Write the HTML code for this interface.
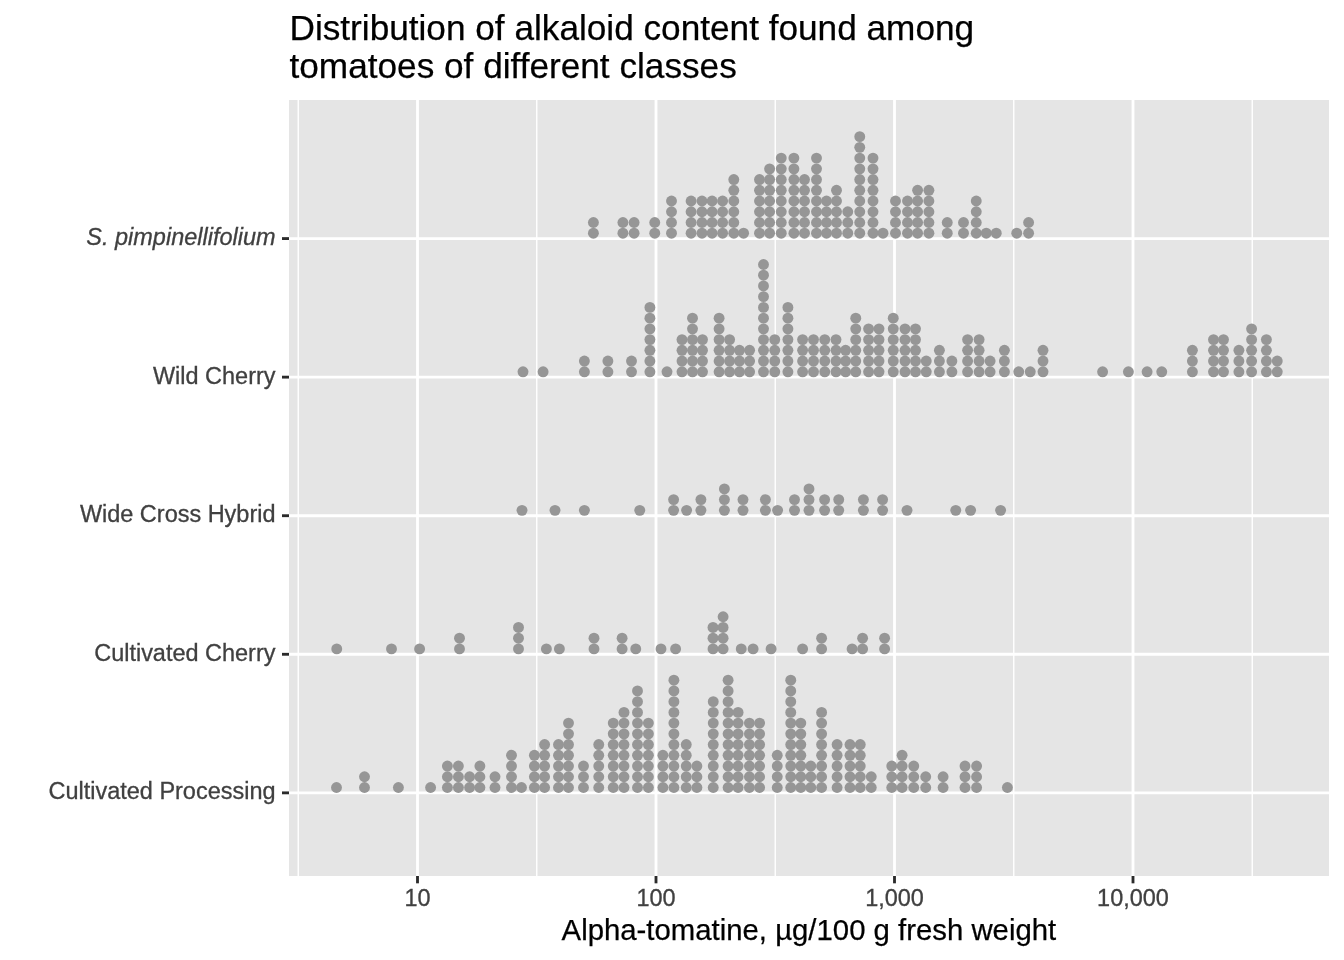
<!DOCTYPE html>
<html lang="en"><head><meta charset="utf-8"><title>Distribution of alkaloid content found among tomatoes of different classes</title>
<style>html,body{margin:0;padding:0;background:#fff}body{width:1344px;height:960px;overflow:hidden}svg{display:block}text{font-family:"Liberation Sans",Arial,Helvetica,sans-serif}.ax{font-size:23.47px;fill:#404040;stroke:#404040;stroke-width:.3px}.ti{font-size:35.20px;fill:#000;stroke:#000;stroke-width:.25px}.xt{font-size:29.33px;fill:#000;stroke:#000;stroke-width:.25px}.d circle{fill:#969696}</style></head><body>
<svg width="1344" height="960" viewBox="0 0 1344 960">
<rect x="0" y="0" width="1344" height="960" fill="#fff"/>
<rect x="289.00" y="100.00" width="1040.00" height="776.00" fill="#E5E5E5"/>
<g stroke="#fff" stroke-width="1.42">
<line x1="298.25" y1="100.00" x2="298.25" y2="876.00"/>
<line x1="536.75" y1="100.00" x2="536.75" y2="876.00"/>
<line x1="775.25" y1="100.00" x2="775.25" y2="876.00"/>
<line x1="1013.75" y1="100.00" x2="1013.75" y2="876.00"/>
<line x1="1252.25" y1="100.00" x2="1252.25" y2="876.00"/>
</g>
<g stroke="#fff" stroke-width="2.85">
<line x1="417.50" y1="100.00" x2="417.50" y2="876.00"/>
<line x1="656.00" y1="100.00" x2="656.00" y2="876.00"/>
<line x1="894.50" y1="100.00" x2="894.50" y2="876.00"/>
<line x1="1133.00" y1="100.00" x2="1133.00" y2="876.00"/>
<line x1="289.00" y1="238.57" x2="1329.00" y2="238.57"/>
<line x1="289.00" y1="377.14" x2="1329.00" y2="377.14"/>
<line x1="289.00" y1="515.71" x2="1329.00" y2="515.71"/>
<line x1="289.00" y1="654.29" x2="1329.00" y2="654.29"/>
<line x1="289.00" y1="792.86" x2="1329.00" y2="792.86"/>
</g>
<g class="d">
<circle cx="593.40" cy="233.21" r="5.45"/>
<circle cx="593.40" cy="222.48" r="5.45"/>
<circle cx="622.90" cy="233.21" r="5.45"/>
<circle cx="622.90" cy="222.48" r="5.45"/>
<circle cx="634.10" cy="233.21" r="5.45"/>
<circle cx="634.10" cy="222.48" r="5.45"/>
<circle cx="654.75" cy="233.21" r="5.45"/>
<circle cx="654.75" cy="222.48" r="5.45"/>
<circle cx="671.50" cy="233.21" r="5.45"/>
<circle cx="671.50" cy="222.48" r="5.45"/>
<circle cx="671.50" cy="211.75" r="5.45"/>
<circle cx="671.50" cy="201.02" r="5.45"/>
<circle cx="691.10" cy="233.21" r="5.45"/>
<circle cx="691.10" cy="222.48" r="5.45"/>
<circle cx="691.10" cy="211.75" r="5.45"/>
<circle cx="691.10" cy="201.02" r="5.45"/>
<circle cx="702.00" cy="233.21" r="5.45"/>
<circle cx="702.00" cy="222.48" r="5.45"/>
<circle cx="702.00" cy="211.75" r="5.45"/>
<circle cx="702.00" cy="201.02" r="5.45"/>
<circle cx="712.10" cy="233.21" r="5.45"/>
<circle cx="712.10" cy="222.48" r="5.45"/>
<circle cx="712.10" cy="211.75" r="5.45"/>
<circle cx="712.10" cy="201.02" r="5.45"/>
<circle cx="722.60" cy="233.21" r="5.45"/>
<circle cx="722.60" cy="222.48" r="5.45"/>
<circle cx="722.60" cy="211.75" r="5.45"/>
<circle cx="722.60" cy="201.02" r="5.45"/>
<circle cx="733.80" cy="233.21" r="5.45"/>
<circle cx="733.80" cy="222.48" r="5.45"/>
<circle cx="733.80" cy="211.75" r="5.45"/>
<circle cx="733.80" cy="201.02" r="5.45"/>
<circle cx="733.80" cy="190.29" r="5.45"/>
<circle cx="733.80" cy="179.56" r="5.45"/>
<circle cx="743.60" cy="233.21" r="5.45"/>
<circle cx="759.50" cy="233.21" r="5.45"/>
<circle cx="759.50" cy="222.48" r="5.45"/>
<circle cx="759.50" cy="211.75" r="5.45"/>
<circle cx="759.50" cy="201.02" r="5.45"/>
<circle cx="759.50" cy="190.29" r="5.45"/>
<circle cx="759.50" cy="179.56" r="5.45"/>
<circle cx="769.60" cy="233.21" r="5.45"/>
<circle cx="769.60" cy="222.48" r="5.45"/>
<circle cx="769.60" cy="211.75" r="5.45"/>
<circle cx="769.60" cy="201.02" r="5.45"/>
<circle cx="769.60" cy="190.29" r="5.45"/>
<circle cx="769.60" cy="179.56" r="5.45"/>
<circle cx="769.60" cy="168.83" r="5.45"/>
<circle cx="781.25" cy="233.21" r="5.45"/>
<circle cx="781.25" cy="222.48" r="5.45"/>
<circle cx="781.25" cy="211.75" r="5.45"/>
<circle cx="781.25" cy="201.02" r="5.45"/>
<circle cx="781.25" cy="190.29" r="5.45"/>
<circle cx="781.25" cy="179.56" r="5.45"/>
<circle cx="781.25" cy="168.83" r="5.45"/>
<circle cx="781.25" cy="158.10" r="5.45"/>
<circle cx="793.90" cy="233.21" r="5.45"/>
<circle cx="793.90" cy="222.48" r="5.45"/>
<circle cx="793.90" cy="211.75" r="5.45"/>
<circle cx="793.90" cy="201.02" r="5.45"/>
<circle cx="793.90" cy="190.29" r="5.45"/>
<circle cx="793.90" cy="179.56" r="5.45"/>
<circle cx="793.90" cy="168.83" r="5.45"/>
<circle cx="793.90" cy="158.10" r="5.45"/>
<circle cx="804.50" cy="233.21" r="5.45"/>
<circle cx="804.50" cy="222.48" r="5.45"/>
<circle cx="804.50" cy="211.75" r="5.45"/>
<circle cx="804.50" cy="201.02" r="5.45"/>
<circle cx="804.50" cy="190.29" r="5.45"/>
<circle cx="804.50" cy="179.56" r="5.45"/>
<circle cx="816.50" cy="233.21" r="5.45"/>
<circle cx="816.50" cy="222.48" r="5.45"/>
<circle cx="816.50" cy="211.75" r="5.45"/>
<circle cx="816.50" cy="201.02" r="5.45"/>
<circle cx="816.50" cy="190.29" r="5.45"/>
<circle cx="816.50" cy="179.56" r="5.45"/>
<circle cx="816.50" cy="168.83" r="5.45"/>
<circle cx="816.50" cy="158.10" r="5.45"/>
<circle cx="826.50" cy="233.21" r="5.45"/>
<circle cx="826.50" cy="222.48" r="5.45"/>
<circle cx="826.50" cy="211.75" r="5.45"/>
<circle cx="826.50" cy="201.02" r="5.45"/>
<circle cx="836.50" cy="233.21" r="5.45"/>
<circle cx="836.50" cy="222.48" r="5.45"/>
<circle cx="836.50" cy="211.75" r="5.45"/>
<circle cx="836.50" cy="201.02" r="5.45"/>
<circle cx="836.50" cy="190.29" r="5.45"/>
<circle cx="847.75" cy="233.21" r="5.45"/>
<circle cx="847.75" cy="222.48" r="5.45"/>
<circle cx="847.75" cy="211.75" r="5.45"/>
<circle cx="859.75" cy="233.21" r="5.45"/>
<circle cx="859.75" cy="222.48" r="5.45"/>
<circle cx="859.75" cy="211.75" r="5.45"/>
<circle cx="859.75" cy="201.02" r="5.45"/>
<circle cx="859.75" cy="190.29" r="5.45"/>
<circle cx="859.75" cy="179.56" r="5.45"/>
<circle cx="859.75" cy="168.83" r="5.45"/>
<circle cx="859.75" cy="158.10" r="5.45"/>
<circle cx="859.75" cy="147.37" r="5.45"/>
<circle cx="859.75" cy="136.64" r="5.45"/>
<circle cx="873.00" cy="233.21" r="5.45"/>
<circle cx="873.00" cy="222.48" r="5.45"/>
<circle cx="873.00" cy="211.75" r="5.45"/>
<circle cx="873.00" cy="201.02" r="5.45"/>
<circle cx="873.00" cy="190.29" r="5.45"/>
<circle cx="873.00" cy="179.56" r="5.45"/>
<circle cx="873.00" cy="168.83" r="5.45"/>
<circle cx="873.00" cy="158.10" r="5.45"/>
<circle cx="883.00" cy="233.21" r="5.45"/>
<circle cx="895.50" cy="233.21" r="5.45"/>
<circle cx="895.50" cy="222.48" r="5.45"/>
<circle cx="895.50" cy="211.75" r="5.45"/>
<circle cx="895.50" cy="201.02" r="5.45"/>
<circle cx="907.50" cy="233.21" r="5.45"/>
<circle cx="907.50" cy="222.48" r="5.45"/>
<circle cx="907.50" cy="211.75" r="5.45"/>
<circle cx="907.50" cy="201.02" r="5.45"/>
<circle cx="917.60" cy="233.21" r="5.45"/>
<circle cx="917.60" cy="222.48" r="5.45"/>
<circle cx="917.60" cy="211.75" r="5.45"/>
<circle cx="917.60" cy="201.02" r="5.45"/>
<circle cx="917.60" cy="190.29" r="5.45"/>
<circle cx="928.90" cy="233.21" r="5.45"/>
<circle cx="928.90" cy="222.48" r="5.45"/>
<circle cx="928.90" cy="211.75" r="5.45"/>
<circle cx="928.90" cy="201.02" r="5.45"/>
<circle cx="928.90" cy="190.29" r="5.45"/>
<circle cx="947.25" cy="233.21" r="5.45"/>
<circle cx="947.25" cy="222.48" r="5.45"/>
<circle cx="963.50" cy="233.21" r="5.45"/>
<circle cx="963.50" cy="222.48" r="5.45"/>
<circle cx="976.25" cy="233.21" r="5.45"/>
<circle cx="976.25" cy="222.48" r="5.45"/>
<circle cx="976.25" cy="211.75" r="5.45"/>
<circle cx="976.25" cy="201.02" r="5.45"/>
<circle cx="986.25" cy="233.21" r="5.45"/>
<circle cx="996.25" cy="233.21" r="5.45"/>
<circle cx="1016.75" cy="233.21" r="5.45"/>
<circle cx="1028.60" cy="233.21" r="5.45"/>
<circle cx="1028.60" cy="222.48" r="5.45"/>
</g>
<g class="d">
<circle cx="523.00" cy="371.78" r="5.45"/>
<circle cx="543.10" cy="371.78" r="5.45"/>
<circle cx="584.40" cy="371.78" r="5.45"/>
<circle cx="584.40" cy="361.05" r="5.45"/>
<circle cx="607.90" cy="371.78" r="5.45"/>
<circle cx="607.90" cy="361.05" r="5.45"/>
<circle cx="631.50" cy="371.78" r="5.45"/>
<circle cx="631.50" cy="361.05" r="5.45"/>
<circle cx="649.90" cy="371.78" r="5.45"/>
<circle cx="649.90" cy="361.05" r="5.45"/>
<circle cx="649.90" cy="350.32" r="5.45"/>
<circle cx="649.90" cy="339.59" r="5.45"/>
<circle cx="649.90" cy="328.86" r="5.45"/>
<circle cx="649.90" cy="318.13" r="5.45"/>
<circle cx="649.90" cy="307.40" r="5.45"/>
<circle cx="667.00" cy="371.78" r="5.45"/>
<circle cx="682.00" cy="371.78" r="5.45"/>
<circle cx="682.00" cy="361.05" r="5.45"/>
<circle cx="682.00" cy="350.32" r="5.45"/>
<circle cx="682.00" cy="339.59" r="5.45"/>
<circle cx="692.50" cy="371.78" r="5.45"/>
<circle cx="692.50" cy="361.05" r="5.45"/>
<circle cx="692.50" cy="350.32" r="5.45"/>
<circle cx="692.50" cy="339.59" r="5.45"/>
<circle cx="692.50" cy="328.86" r="5.45"/>
<circle cx="692.50" cy="318.13" r="5.45"/>
<circle cx="702.50" cy="371.78" r="5.45"/>
<circle cx="702.50" cy="361.05" r="5.45"/>
<circle cx="702.50" cy="350.32" r="5.45"/>
<circle cx="702.50" cy="339.59" r="5.45"/>
<circle cx="719.10" cy="371.78" r="5.45"/>
<circle cx="719.10" cy="361.05" r="5.45"/>
<circle cx="719.10" cy="350.32" r="5.45"/>
<circle cx="719.10" cy="339.59" r="5.45"/>
<circle cx="719.10" cy="328.86" r="5.45"/>
<circle cx="719.10" cy="318.13" r="5.45"/>
<circle cx="729.60" cy="371.78" r="5.45"/>
<circle cx="729.60" cy="361.05" r="5.45"/>
<circle cx="729.60" cy="350.32" r="5.45"/>
<circle cx="729.60" cy="339.59" r="5.45"/>
<circle cx="739.50" cy="371.78" r="5.45"/>
<circle cx="739.50" cy="361.05" r="5.45"/>
<circle cx="739.50" cy="350.32" r="5.45"/>
<circle cx="749.60" cy="371.78" r="5.45"/>
<circle cx="749.60" cy="361.05" r="5.45"/>
<circle cx="749.60" cy="350.32" r="5.45"/>
<circle cx="763.50" cy="371.78" r="5.45"/>
<circle cx="763.50" cy="361.05" r="5.45"/>
<circle cx="763.50" cy="350.32" r="5.45"/>
<circle cx="763.50" cy="339.59" r="5.45"/>
<circle cx="763.50" cy="328.86" r="5.45"/>
<circle cx="763.50" cy="318.13" r="5.45"/>
<circle cx="763.50" cy="307.40" r="5.45"/>
<circle cx="763.50" cy="296.67" r="5.45"/>
<circle cx="763.50" cy="285.94" r="5.45"/>
<circle cx="763.50" cy="275.21" r="5.45"/>
<circle cx="763.50" cy="264.48" r="5.45"/>
<circle cx="774.75" cy="371.78" r="5.45"/>
<circle cx="774.75" cy="361.05" r="5.45"/>
<circle cx="774.75" cy="350.32" r="5.45"/>
<circle cx="774.75" cy="339.59" r="5.45"/>
<circle cx="787.90" cy="371.78" r="5.45"/>
<circle cx="787.90" cy="361.05" r="5.45"/>
<circle cx="787.90" cy="350.32" r="5.45"/>
<circle cx="787.90" cy="339.59" r="5.45"/>
<circle cx="787.90" cy="328.86" r="5.45"/>
<circle cx="787.90" cy="318.13" r="5.45"/>
<circle cx="787.90" cy="307.40" r="5.45"/>
<circle cx="802.60" cy="371.78" r="5.45"/>
<circle cx="802.60" cy="361.05" r="5.45"/>
<circle cx="802.60" cy="350.32" r="5.45"/>
<circle cx="802.60" cy="339.59" r="5.45"/>
<circle cx="813.50" cy="371.78" r="5.45"/>
<circle cx="813.50" cy="361.05" r="5.45"/>
<circle cx="813.50" cy="350.32" r="5.45"/>
<circle cx="813.50" cy="339.59" r="5.45"/>
<circle cx="824.75" cy="371.78" r="5.45"/>
<circle cx="824.75" cy="361.05" r="5.45"/>
<circle cx="824.75" cy="350.32" r="5.45"/>
<circle cx="824.75" cy="339.59" r="5.45"/>
<circle cx="836.00" cy="371.78" r="5.45"/>
<circle cx="836.00" cy="361.05" r="5.45"/>
<circle cx="836.00" cy="350.32" r="5.45"/>
<circle cx="836.00" cy="339.59" r="5.45"/>
<circle cx="845.60" cy="371.78" r="5.45"/>
<circle cx="845.60" cy="361.05" r="5.45"/>
<circle cx="845.60" cy="350.32" r="5.45"/>
<circle cx="855.75" cy="371.78" r="5.45"/>
<circle cx="855.75" cy="361.05" r="5.45"/>
<circle cx="855.75" cy="350.32" r="5.45"/>
<circle cx="855.75" cy="339.59" r="5.45"/>
<circle cx="855.75" cy="328.86" r="5.45"/>
<circle cx="855.75" cy="318.13" r="5.45"/>
<circle cx="868.60" cy="371.78" r="5.45"/>
<circle cx="868.60" cy="361.05" r="5.45"/>
<circle cx="868.60" cy="350.32" r="5.45"/>
<circle cx="868.60" cy="339.59" r="5.45"/>
<circle cx="868.60" cy="328.86" r="5.45"/>
<circle cx="879.00" cy="371.78" r="5.45"/>
<circle cx="879.00" cy="361.05" r="5.45"/>
<circle cx="879.00" cy="350.32" r="5.45"/>
<circle cx="879.00" cy="339.59" r="5.45"/>
<circle cx="879.00" cy="328.86" r="5.45"/>
<circle cx="893.25" cy="371.78" r="5.45"/>
<circle cx="893.25" cy="361.05" r="5.45"/>
<circle cx="893.25" cy="350.32" r="5.45"/>
<circle cx="893.25" cy="339.59" r="5.45"/>
<circle cx="893.25" cy="328.86" r="5.45"/>
<circle cx="893.25" cy="318.13" r="5.45"/>
<circle cx="905.00" cy="371.78" r="5.45"/>
<circle cx="905.00" cy="361.05" r="5.45"/>
<circle cx="905.00" cy="350.32" r="5.45"/>
<circle cx="905.00" cy="339.59" r="5.45"/>
<circle cx="905.00" cy="328.86" r="5.45"/>
<circle cx="915.50" cy="371.78" r="5.45"/>
<circle cx="915.50" cy="361.05" r="5.45"/>
<circle cx="915.50" cy="350.32" r="5.45"/>
<circle cx="915.50" cy="339.59" r="5.45"/>
<circle cx="915.50" cy="328.86" r="5.45"/>
<circle cx="926.25" cy="371.78" r="5.45"/>
<circle cx="926.25" cy="361.05" r="5.45"/>
<circle cx="939.40" cy="371.78" r="5.45"/>
<circle cx="939.40" cy="361.05" r="5.45"/>
<circle cx="939.40" cy="350.32" r="5.45"/>
<circle cx="951.90" cy="371.78" r="5.45"/>
<circle cx="951.90" cy="361.05" r="5.45"/>
<circle cx="967.60" cy="371.78" r="5.45"/>
<circle cx="967.60" cy="361.05" r="5.45"/>
<circle cx="967.60" cy="350.32" r="5.45"/>
<circle cx="967.60" cy="339.59" r="5.45"/>
<circle cx="979.10" cy="371.78" r="5.45"/>
<circle cx="979.10" cy="361.05" r="5.45"/>
<circle cx="979.10" cy="350.32" r="5.45"/>
<circle cx="979.10" cy="339.59" r="5.45"/>
<circle cx="990.10" cy="371.78" r="5.45"/>
<circle cx="990.10" cy="361.05" r="5.45"/>
<circle cx="1004.40" cy="371.78" r="5.45"/>
<circle cx="1004.40" cy="361.05" r="5.45"/>
<circle cx="1004.40" cy="350.32" r="5.45"/>
<circle cx="1018.75" cy="371.78" r="5.45"/>
<circle cx="1030.25" cy="371.78" r="5.45"/>
<circle cx="1043.00" cy="371.78" r="5.45"/>
<circle cx="1043.00" cy="361.05" r="5.45"/>
<circle cx="1043.00" cy="350.32" r="5.45"/>
<circle cx="1102.60" cy="371.78" r="5.45"/>
<circle cx="1128.40" cy="371.78" r="5.45"/>
<circle cx="1147.10" cy="371.78" r="5.45"/>
<circle cx="1161.75" cy="371.78" r="5.45"/>
<circle cx="1192.40" cy="371.78" r="5.45"/>
<circle cx="1192.40" cy="361.05" r="5.45"/>
<circle cx="1192.40" cy="350.32" r="5.45"/>
<circle cx="1213.50" cy="371.78" r="5.45"/>
<circle cx="1213.50" cy="361.05" r="5.45"/>
<circle cx="1213.50" cy="350.32" r="5.45"/>
<circle cx="1213.50" cy="339.59" r="5.45"/>
<circle cx="1223.50" cy="371.78" r="5.45"/>
<circle cx="1223.50" cy="361.05" r="5.45"/>
<circle cx="1223.50" cy="350.32" r="5.45"/>
<circle cx="1223.50" cy="339.59" r="5.45"/>
<circle cx="1238.90" cy="371.78" r="5.45"/>
<circle cx="1238.90" cy="361.05" r="5.45"/>
<circle cx="1238.90" cy="350.32" r="5.45"/>
<circle cx="1251.60" cy="371.78" r="5.45"/>
<circle cx="1251.60" cy="361.05" r="5.45"/>
<circle cx="1251.60" cy="350.32" r="5.45"/>
<circle cx="1251.60" cy="339.59" r="5.45"/>
<circle cx="1251.60" cy="328.86" r="5.45"/>
<circle cx="1266.40" cy="371.78" r="5.45"/>
<circle cx="1266.40" cy="361.05" r="5.45"/>
<circle cx="1266.40" cy="350.32" r="5.45"/>
<circle cx="1266.40" cy="339.59" r="5.45"/>
<circle cx="1277.25" cy="371.78" r="5.45"/>
<circle cx="1277.25" cy="361.05" r="5.45"/>
</g>
<g class="d">
<circle cx="522.00" cy="510.35" r="5.45"/>
<circle cx="555.00" cy="510.35" r="5.45"/>
<circle cx="584.40" cy="510.35" r="5.45"/>
<circle cx="639.75" cy="510.35" r="5.45"/>
<circle cx="673.60" cy="510.35" r="5.45"/>
<circle cx="673.60" cy="499.62" r="5.45"/>
<circle cx="686.60" cy="510.35" r="5.45"/>
<circle cx="700.90" cy="510.35" r="5.45"/>
<circle cx="700.90" cy="499.62" r="5.45"/>
<circle cx="724.40" cy="510.35" r="5.45"/>
<circle cx="724.40" cy="499.62" r="5.45"/>
<circle cx="724.40" cy="488.89" r="5.45"/>
<circle cx="743.00" cy="510.35" r="5.45"/>
<circle cx="743.00" cy="499.62" r="5.45"/>
<circle cx="765.40" cy="510.35" r="5.45"/>
<circle cx="765.40" cy="499.62" r="5.45"/>
<circle cx="777.60" cy="510.35" r="5.45"/>
<circle cx="794.50" cy="510.35" r="5.45"/>
<circle cx="794.50" cy="499.62" r="5.45"/>
<circle cx="809.00" cy="510.35" r="5.45"/>
<circle cx="809.00" cy="499.62" r="5.45"/>
<circle cx="809.00" cy="488.89" r="5.45"/>
<circle cx="824.60" cy="510.35" r="5.45"/>
<circle cx="824.60" cy="499.62" r="5.45"/>
<circle cx="838.70" cy="510.35" r="5.45"/>
<circle cx="838.70" cy="499.62" r="5.45"/>
<circle cx="863.40" cy="510.35" r="5.45"/>
<circle cx="863.40" cy="499.62" r="5.45"/>
<circle cx="882.60" cy="510.35" r="5.45"/>
<circle cx="882.60" cy="499.62" r="5.45"/>
<circle cx="907.00" cy="510.35" r="5.45"/>
<circle cx="955.75" cy="510.35" r="5.45"/>
<circle cx="970.60" cy="510.35" r="5.45"/>
<circle cx="1000.60" cy="510.35" r="5.45"/>
</g>
<g class="d">
<circle cx="336.75" cy="648.92" r="5.45"/>
<circle cx="391.50" cy="648.92" r="5.45"/>
<circle cx="419.60" cy="648.92" r="5.45"/>
<circle cx="459.50" cy="648.92" r="5.45"/>
<circle cx="459.50" cy="638.19" r="5.45"/>
<circle cx="518.50" cy="648.92" r="5.45"/>
<circle cx="518.50" cy="638.19" r="5.45"/>
<circle cx="518.50" cy="627.46" r="5.45"/>
<circle cx="546.40" cy="648.92" r="5.45"/>
<circle cx="559.40" cy="648.92" r="5.45"/>
<circle cx="594.00" cy="648.92" r="5.45"/>
<circle cx="594.00" cy="638.19" r="5.45"/>
<circle cx="622.10" cy="648.92" r="5.45"/>
<circle cx="622.10" cy="638.19" r="5.45"/>
<circle cx="635.75" cy="648.92" r="5.45"/>
<circle cx="661.00" cy="648.92" r="5.45"/>
<circle cx="675.60" cy="648.92" r="5.45"/>
<circle cx="713.00" cy="648.92" r="5.45"/>
<circle cx="713.00" cy="638.19" r="5.45"/>
<circle cx="713.00" cy="627.46" r="5.45"/>
<circle cx="723.10" cy="648.92" r="5.45"/>
<circle cx="723.10" cy="638.19" r="5.45"/>
<circle cx="723.10" cy="627.46" r="5.45"/>
<circle cx="723.10" cy="616.73" r="5.45"/>
<circle cx="741.25" cy="648.92" r="5.45"/>
<circle cx="753.10" cy="648.92" r="5.45"/>
<circle cx="771.10" cy="648.92" r="5.45"/>
<circle cx="802.60" cy="648.92" r="5.45"/>
<circle cx="821.60" cy="648.92" r="5.45"/>
<circle cx="821.60" cy="638.19" r="5.45"/>
<circle cx="852.10" cy="648.92" r="5.45"/>
<circle cx="862.60" cy="648.92" r="5.45"/>
<circle cx="862.60" cy="638.19" r="5.45"/>
<circle cx="884.60" cy="648.92" r="5.45"/>
<circle cx="884.60" cy="638.19" r="5.45"/>
</g>
<g class="d">
<circle cx="336.50" cy="787.49" r="5.45"/>
<circle cx="364.50" cy="787.49" r="5.45"/>
<circle cx="364.50" cy="776.76" r="5.45"/>
<circle cx="398.40" cy="787.49" r="5.45"/>
<circle cx="430.60" cy="787.49" r="5.45"/>
<circle cx="447.40" cy="787.49" r="5.45"/>
<circle cx="447.40" cy="776.76" r="5.45"/>
<circle cx="447.40" cy="766.03" r="5.45"/>
<circle cx="458.40" cy="787.49" r="5.45"/>
<circle cx="458.40" cy="776.76" r="5.45"/>
<circle cx="458.40" cy="766.03" r="5.45"/>
<circle cx="469.60" cy="787.49" r="5.45"/>
<circle cx="469.60" cy="776.76" r="5.45"/>
<circle cx="479.90" cy="787.49" r="5.45"/>
<circle cx="479.90" cy="776.76" r="5.45"/>
<circle cx="479.90" cy="766.03" r="5.45"/>
<circle cx="495.00" cy="787.49" r="5.45"/>
<circle cx="495.00" cy="776.76" r="5.45"/>
<circle cx="511.50" cy="787.49" r="5.45"/>
<circle cx="511.50" cy="776.76" r="5.45"/>
<circle cx="511.50" cy="766.03" r="5.45"/>
<circle cx="511.50" cy="755.30" r="5.45"/>
<circle cx="521.50" cy="787.49" r="5.45"/>
<circle cx="534.40" cy="787.49" r="5.45"/>
<circle cx="534.40" cy="776.76" r="5.45"/>
<circle cx="534.40" cy="766.03" r="5.45"/>
<circle cx="534.40" cy="755.30" r="5.45"/>
<circle cx="544.60" cy="787.49" r="5.45"/>
<circle cx="544.60" cy="776.76" r="5.45"/>
<circle cx="544.60" cy="766.03" r="5.45"/>
<circle cx="544.60" cy="755.30" r="5.45"/>
<circle cx="544.60" cy="744.57" r="5.45"/>
<circle cx="558.50" cy="787.49" r="5.45"/>
<circle cx="558.50" cy="776.76" r="5.45"/>
<circle cx="558.50" cy="766.03" r="5.45"/>
<circle cx="558.50" cy="755.30" r="5.45"/>
<circle cx="558.50" cy="744.57" r="5.45"/>
<circle cx="568.50" cy="787.49" r="5.45"/>
<circle cx="568.50" cy="776.76" r="5.45"/>
<circle cx="568.50" cy="766.03" r="5.45"/>
<circle cx="568.50" cy="755.30" r="5.45"/>
<circle cx="568.50" cy="744.57" r="5.45"/>
<circle cx="568.50" cy="733.84" r="5.45"/>
<circle cx="568.50" cy="723.11" r="5.45"/>
<circle cx="583.50" cy="787.49" r="5.45"/>
<circle cx="583.50" cy="776.76" r="5.45"/>
<circle cx="583.50" cy="766.03" r="5.45"/>
<circle cx="598.75" cy="787.49" r="5.45"/>
<circle cx="598.75" cy="776.76" r="5.45"/>
<circle cx="598.75" cy="766.03" r="5.45"/>
<circle cx="598.75" cy="755.30" r="5.45"/>
<circle cx="598.75" cy="744.57" r="5.45"/>
<circle cx="613.25" cy="787.49" r="5.45"/>
<circle cx="613.25" cy="776.76" r="5.45"/>
<circle cx="613.25" cy="766.03" r="5.45"/>
<circle cx="613.25" cy="755.30" r="5.45"/>
<circle cx="613.25" cy="744.57" r="5.45"/>
<circle cx="613.25" cy="733.84" r="5.45"/>
<circle cx="613.25" cy="723.11" r="5.45"/>
<circle cx="624.00" cy="787.49" r="5.45"/>
<circle cx="624.00" cy="776.76" r="5.45"/>
<circle cx="624.00" cy="766.03" r="5.45"/>
<circle cx="624.00" cy="755.30" r="5.45"/>
<circle cx="624.00" cy="744.57" r="5.45"/>
<circle cx="624.00" cy="733.84" r="5.45"/>
<circle cx="624.00" cy="723.11" r="5.45"/>
<circle cx="624.00" cy="712.38" r="5.45"/>
<circle cx="637.50" cy="787.49" r="5.45"/>
<circle cx="637.50" cy="776.76" r="5.45"/>
<circle cx="637.50" cy="766.03" r="5.45"/>
<circle cx="637.50" cy="755.30" r="5.45"/>
<circle cx="637.50" cy="744.57" r="5.45"/>
<circle cx="637.50" cy="733.84" r="5.45"/>
<circle cx="637.50" cy="723.11" r="5.45"/>
<circle cx="637.50" cy="712.38" r="5.45"/>
<circle cx="637.50" cy="701.65" r="5.45"/>
<circle cx="637.50" cy="690.92" r="5.45"/>
<circle cx="648.40" cy="787.49" r="5.45"/>
<circle cx="648.40" cy="776.76" r="5.45"/>
<circle cx="648.40" cy="766.03" r="5.45"/>
<circle cx="648.40" cy="755.30" r="5.45"/>
<circle cx="648.40" cy="744.57" r="5.45"/>
<circle cx="648.40" cy="733.84" r="5.45"/>
<circle cx="648.40" cy="723.11" r="5.45"/>
<circle cx="662.90" cy="787.49" r="5.45"/>
<circle cx="662.90" cy="776.76" r="5.45"/>
<circle cx="662.90" cy="766.03" r="5.45"/>
<circle cx="662.90" cy="755.30" r="5.45"/>
<circle cx="673.90" cy="787.49" r="5.45"/>
<circle cx="673.90" cy="776.76" r="5.45"/>
<circle cx="673.90" cy="766.03" r="5.45"/>
<circle cx="673.90" cy="755.30" r="5.45"/>
<circle cx="673.90" cy="744.57" r="5.45"/>
<circle cx="673.90" cy="733.84" r="5.45"/>
<circle cx="673.90" cy="723.11" r="5.45"/>
<circle cx="673.90" cy="712.38" r="5.45"/>
<circle cx="673.90" cy="701.65" r="5.45"/>
<circle cx="673.90" cy="690.92" r="5.45"/>
<circle cx="673.90" cy="680.19" r="5.45"/>
<circle cx="686.25" cy="787.49" r="5.45"/>
<circle cx="686.25" cy="776.76" r="5.45"/>
<circle cx="686.25" cy="766.03" r="5.45"/>
<circle cx="686.25" cy="755.30" r="5.45"/>
<circle cx="686.25" cy="744.57" r="5.45"/>
<circle cx="696.90" cy="787.49" r="5.45"/>
<circle cx="696.90" cy="776.76" r="5.45"/>
<circle cx="696.90" cy="766.03" r="5.45"/>
<circle cx="713.25" cy="787.49" r="5.45"/>
<circle cx="713.25" cy="776.76" r="5.45"/>
<circle cx="713.25" cy="766.03" r="5.45"/>
<circle cx="713.25" cy="755.30" r="5.45"/>
<circle cx="713.25" cy="744.57" r="5.45"/>
<circle cx="713.25" cy="733.84" r="5.45"/>
<circle cx="713.25" cy="723.11" r="5.45"/>
<circle cx="713.25" cy="712.38" r="5.45"/>
<circle cx="713.25" cy="701.65" r="5.45"/>
<circle cx="728.10" cy="787.49" r="5.45"/>
<circle cx="728.10" cy="776.76" r="5.45"/>
<circle cx="728.10" cy="766.03" r="5.45"/>
<circle cx="728.10" cy="755.30" r="5.45"/>
<circle cx="728.10" cy="744.57" r="5.45"/>
<circle cx="728.10" cy="733.84" r="5.45"/>
<circle cx="728.10" cy="723.11" r="5.45"/>
<circle cx="728.10" cy="712.38" r="5.45"/>
<circle cx="728.10" cy="701.65" r="5.45"/>
<circle cx="728.10" cy="690.92" r="5.45"/>
<circle cx="728.10" cy="680.19" r="5.45"/>
<circle cx="738.10" cy="787.49" r="5.45"/>
<circle cx="738.10" cy="776.76" r="5.45"/>
<circle cx="738.10" cy="766.03" r="5.45"/>
<circle cx="738.10" cy="755.30" r="5.45"/>
<circle cx="738.10" cy="744.57" r="5.45"/>
<circle cx="738.10" cy="733.84" r="5.45"/>
<circle cx="738.10" cy="723.11" r="5.45"/>
<circle cx="738.10" cy="712.38" r="5.45"/>
<circle cx="749.40" cy="787.49" r="5.45"/>
<circle cx="749.40" cy="776.76" r="5.45"/>
<circle cx="749.40" cy="766.03" r="5.45"/>
<circle cx="749.40" cy="755.30" r="5.45"/>
<circle cx="749.40" cy="744.57" r="5.45"/>
<circle cx="749.40" cy="733.84" r="5.45"/>
<circle cx="749.40" cy="723.11" r="5.45"/>
<circle cx="759.60" cy="787.49" r="5.45"/>
<circle cx="759.60" cy="776.76" r="5.45"/>
<circle cx="759.60" cy="766.03" r="5.45"/>
<circle cx="759.60" cy="755.30" r="5.45"/>
<circle cx="759.60" cy="744.57" r="5.45"/>
<circle cx="759.60" cy="733.84" r="5.45"/>
<circle cx="759.60" cy="723.11" r="5.45"/>
<circle cx="777.25" cy="787.49" r="5.45"/>
<circle cx="777.25" cy="776.76" r="5.45"/>
<circle cx="777.25" cy="766.03" r="5.45"/>
<circle cx="777.25" cy="755.30" r="5.45"/>
<circle cx="790.75" cy="787.49" r="5.45"/>
<circle cx="790.75" cy="776.76" r="5.45"/>
<circle cx="790.75" cy="766.03" r="5.45"/>
<circle cx="790.75" cy="755.30" r="5.45"/>
<circle cx="790.75" cy="744.57" r="5.45"/>
<circle cx="790.75" cy="733.84" r="5.45"/>
<circle cx="790.75" cy="723.11" r="5.45"/>
<circle cx="790.75" cy="712.38" r="5.45"/>
<circle cx="790.75" cy="701.65" r="5.45"/>
<circle cx="790.75" cy="690.92" r="5.45"/>
<circle cx="790.75" cy="680.19" r="5.45"/>
<circle cx="800.80" cy="787.49" r="5.45"/>
<circle cx="800.80" cy="776.76" r="5.45"/>
<circle cx="800.80" cy="766.03" r="5.45"/>
<circle cx="800.80" cy="755.30" r="5.45"/>
<circle cx="800.80" cy="744.57" r="5.45"/>
<circle cx="800.80" cy="733.84" r="5.45"/>
<circle cx="800.80" cy="723.11" r="5.45"/>
<circle cx="810.80" cy="787.49" r="5.45"/>
<circle cx="810.80" cy="776.76" r="5.45"/>
<circle cx="810.80" cy="766.03" r="5.45"/>
<circle cx="821.60" cy="787.49" r="5.45"/>
<circle cx="821.60" cy="776.76" r="5.45"/>
<circle cx="821.60" cy="766.03" r="5.45"/>
<circle cx="821.60" cy="755.30" r="5.45"/>
<circle cx="821.60" cy="744.57" r="5.45"/>
<circle cx="821.60" cy="733.84" r="5.45"/>
<circle cx="821.60" cy="723.11" r="5.45"/>
<circle cx="821.60" cy="712.38" r="5.45"/>
<circle cx="837.10" cy="787.49" r="5.45"/>
<circle cx="837.10" cy="776.76" r="5.45"/>
<circle cx="837.10" cy="766.03" r="5.45"/>
<circle cx="837.10" cy="755.30" r="5.45"/>
<circle cx="837.10" cy="744.57" r="5.45"/>
<circle cx="850.00" cy="787.49" r="5.45"/>
<circle cx="850.00" cy="776.76" r="5.45"/>
<circle cx="850.00" cy="766.03" r="5.45"/>
<circle cx="850.00" cy="755.30" r="5.45"/>
<circle cx="850.00" cy="744.57" r="5.45"/>
<circle cx="860.25" cy="787.49" r="5.45"/>
<circle cx="860.25" cy="776.76" r="5.45"/>
<circle cx="860.25" cy="766.03" r="5.45"/>
<circle cx="860.25" cy="755.30" r="5.45"/>
<circle cx="860.25" cy="744.57" r="5.45"/>
<circle cx="871.25" cy="787.49" r="5.45"/>
<circle cx="871.25" cy="776.76" r="5.45"/>
<circle cx="891.75" cy="787.49" r="5.45"/>
<circle cx="891.75" cy="776.76" r="5.45"/>
<circle cx="891.75" cy="766.03" r="5.45"/>
<circle cx="902.10" cy="787.49" r="5.45"/>
<circle cx="902.10" cy="776.76" r="5.45"/>
<circle cx="902.10" cy="766.03" r="5.45"/>
<circle cx="902.10" cy="755.30" r="5.45"/>
<circle cx="913.75" cy="787.49" r="5.45"/>
<circle cx="913.75" cy="776.76" r="5.45"/>
<circle cx="913.75" cy="766.03" r="5.45"/>
<circle cx="925.70" cy="787.49" r="5.45"/>
<circle cx="925.70" cy="776.76" r="5.45"/>
<circle cx="943.10" cy="787.49" r="5.45"/>
<circle cx="943.10" cy="776.76" r="5.45"/>
<circle cx="965.00" cy="787.49" r="5.45"/>
<circle cx="965.00" cy="776.76" r="5.45"/>
<circle cx="965.00" cy="766.03" r="5.45"/>
<circle cx="976.60" cy="787.49" r="5.45"/>
<circle cx="976.60" cy="776.76" r="5.45"/>
<circle cx="976.60" cy="766.03" r="5.45"/>
<circle cx="1007.40" cy="787.49" r="5.45"/>
</g>
<g stroke="#2B2B2B" stroke-width="2.85">
<line x1="417.50" y1="876.00" x2="417.50" y2="883.33"/>
<line x1="656.00" y1="876.00" x2="656.00" y2="883.33"/>
<line x1="894.50" y1="876.00" x2="894.50" y2="883.33"/>
<line x1="1133.00" y1="876.00" x2="1133.00" y2="883.33"/>
<line x1="282.00" y1="238.57" x2="289.00" y2="238.57"/>
<line x1="282.00" y1="377.14" x2="289.00" y2="377.14"/>
<line x1="282.00" y1="515.71" x2="289.00" y2="515.71"/>
<line x1="282.00" y1="654.29" x2="289.00" y2="654.29"/>
<line x1="282.00" y1="792.86" x2="289.00" y2="792.86"/>
</g>
<text class="ax" x="417.50" y="905.60" text-anchor="middle">10</text>
<text class="ax" x="656.00" y="905.60" text-anchor="middle">100</text>
<text class="ax" x="894.50" y="905.60" text-anchor="middle">1,000</text>
<text class="ax" x="1133.00" y="905.60" text-anchor="middle">10,000</text>
<text class="ax" x="275.50" y="245.17" text-anchor="end" font-style="italic">S. pimpinellifolium</text>
<text class="ax" x="275.50" y="383.74" text-anchor="end">Wild Cherry</text>
<text class="ax" x="275.50" y="522.31" text-anchor="end">Wide Cross Hybrid</text>
<text class="ax" x="275.50" y="660.89" text-anchor="end">Cultivated Cherry</text>
<text class="ax" x="275.50" y="799.46" text-anchor="end">Cultivated Processing</text>
<text class="xt" x="808.90" y="939.80" text-anchor="middle">Alpha-tomatine, µg/100 g fresh weight</text>
<text class="ti" x="289.50" y="39.75">Distribution of alkaloid content found among</text>
<text class="ti" x="289.50" y="77.60">tomatoes of different classes</text>
</svg></body></html>
